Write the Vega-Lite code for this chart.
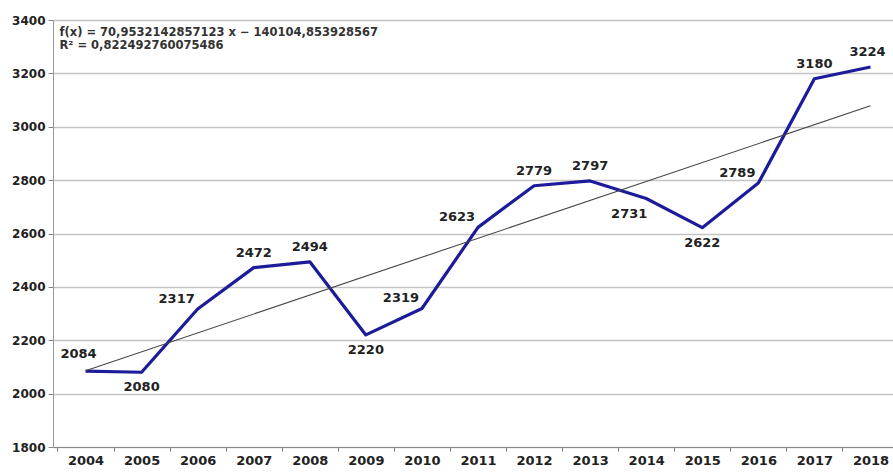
{
  "$schema": "https://vega.github.io/schema/vega-lite/v6.json",
  "width": 850,
  "height": 427,
  "autosize": {"type": "none"},
  "padding": {"left": 53, "top": 20, "right": 0, "bottom": 26},
  "background": "white",
  "config": {
    "view": {"stroke": null},
    "font": "DejaVu Sans"
  },
  "data": {
    "values": [
      {"year": 2004, "value": 2084},
      {"year": 2005, "value": 2080},
      {"year": 2006, "value": 2317},
      {"year": 2007, "value": 2472},
      {"year": 2008, "value": 2494},
      {"year": 2009, "value": 2220},
      {"year": 2010, "value": 2319},
      {"year": 2011, "value": 2623},
      {"year": 2012, "value": 2779},
      {"year": 2013, "value": 2797},
      {"year": 2014, "value": 2731},
      {"year": 2015, "value": 2622},
      {"year": 2016, "value": 2789},
      {"year": 2017, "value": 3180},
      {"year": 2018, "value": 3224}
    ]
  },
  "encoding": {
    "x": {
      "field": "year",
      "type": "ordinal",
      "bandPosition": 0.5,
      "scale": {"type": "band", "paddingInner": 0, "paddingOuter": 0.08},
      "axis": {
        "title": null,
        "labelAngle": 0,
        "labelFont": "DejaVu Sans",
        "labelFontSize": 13,
        "labelFontWeight": "bold",
        "labelColor": "#222",
        "labelPadding": 3,
        "tickBand": "extent",
        "tickSize": 4,
        "tickColor": "#777",
        "domainColor": "#888",
        "grid": false
      }
    },
    "y": {
      "field": "value",
      "type": "quantitative",
      "scale": {"domain": [1800, 3400], "nice": false, "zero": false},
      "axis": {
        "title": null,
        "format": "d",
        "values": [1800, 2000, 2200, 2400, 2600, 2800, 3000, 3200, 3400],
        "labelFont": "DejaVu Sans",
        "labelFontSize": 12,
        "labelFontWeight": "bold",
        "labelColor": "#222",
        "labelPadding": 3,
        "tickSize": 5,
        "tickColor": "#888",
        "domainColor": "#999",
        "gridColor": "#c4c4c4",
        "gridWidth": 1.3
      }
    }
  },
  "layer": [
    {
      "mark": {"type": "line", "color": "#1c1c9a", "strokeWidth": 3.2, "strokeJoin": "round"}
    },
    {
      "transform": [{"regression": "value", "on": "year"}],
      "mark": {"type": "line", "color": "#444", "strokeWidth": 1.1}
    },
    {
      "transform": [{"filter": {"field": "year", "oneOf": [2007, 2008, 2012, 2013, 2017]}}],
      "mark": {"type": "text", "dy": -15, "fontSize": 13, "fontWeight": "bold", "color": "#222"},
      "encoding": {"text": {"field": "value"}}
    },
    {
      "transform": [{"filter": {"field": "year", "oneOf": [2018]}}],
      "mark": {"type": "text", "dy": -15, "dx": -3, "fontSize": 13, "fontWeight": "bold", "color": "#222"},
      "encoding": {"text": {"field": "value"}}
    },
    {
      "transform": [{"filter": {"field": "year", "oneOf": [2006, 2010, 2011, 2016]}}],
      "mark": {"type": "text", "dy": -10, "dx": -21, "fontSize": 13, "fontWeight": "bold", "color": "#222"},
      "encoding": {"text": {"field": "value"}}
    },
    {
      "transform": [{"filter": {"field": "year", "oneOf": [2004]}}],
      "mark": {"type": "text", "dy": -17, "dx": -7, "fontSize": 13, "fontWeight": "bold", "color": "#222"},
      "encoding": {"text": {"field": "value"}}
    },
    {
      "transform": [{"filter": {"field": "year", "oneOf": [2005, 2009, 2015]}}],
      "mark": {"type": "text", "dy": 15, "fontSize": 13, "fontWeight": "bold", "color": "#222"},
      "encoding": {"text": {"field": "value"}}
    },
    {
      "transform": [{"filter": {"field": "year", "oneOf": [2014]}}],
      "mark": {"type": "text", "dy": 15, "dx": -17, "fontSize": 13, "fontWeight": "bold", "color": "#222"},
      "encoding": {"text": {"field": "value"}}
    },
    {
      "data": {"values": [
        {"line": "f(x) = 70,9532142857123 x − 140104,853928567", "pos": 3351},
        {"line": "R² = 0,822492760075486", "pos": 3303}
      ]},
      "mark": {"type": "text", "align": "left", "baseline": "middle", "dx": 2, "fontSize": 11.5, "fontWeight": "bold", "color": "#333"},
      "encoding": {
        "x": {"datum": 2004, "type": "ordinal", "bandPosition": 0},
        "y": {"field": "pos", "type": "quantitative"},
        "text": {"field": "line"}
      }
    }
  ]
}
